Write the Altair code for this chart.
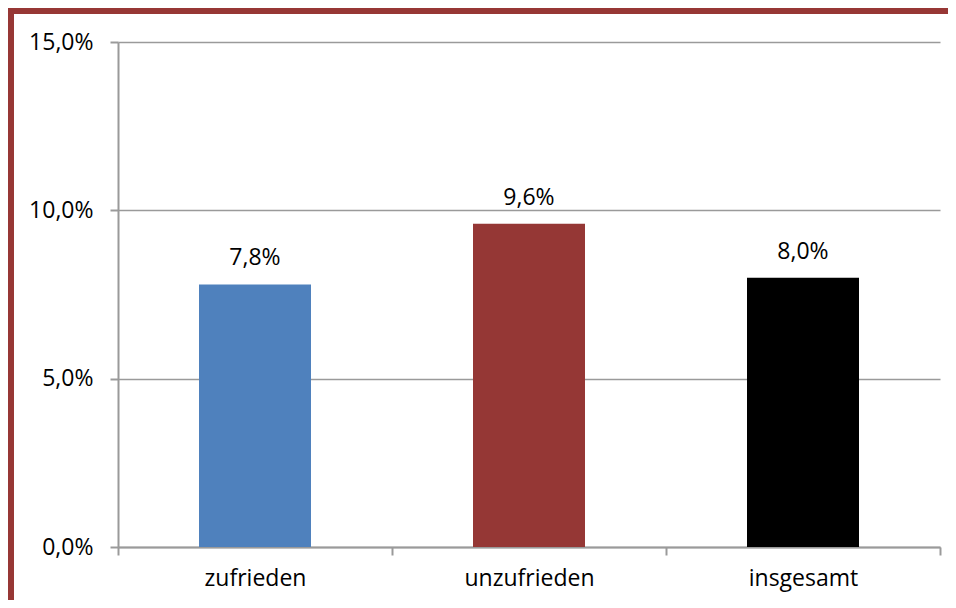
import altair as alt
import pandas as pd

categories = ["zufrieden", "unzufrieden", "insgesamt"]
values = [0.078, 0.096, 0.080]
colors = ["#4f81bd", "#953735", "#000000"]

df = pd.DataFrame({"cat": categories, "val": values, "color": colors})

FONT = "Open Sans"
FS = 23
W, H = 822, 505

x = alt.X("cat:N", sort=categories, title=None,
          scale=alt.Scale(paddingInner=0, paddingOuter=0),
          axis=alt.Axis(tickBand="extent", labelAngle=0, labelFont=FONT, labelFontSize=FS,
                        labelColor="#000000", labelPadding=12, tickSize=8, tickColor="#9a9a9a",
                        tickWidth=2, domainColor="#9a9a9a", domainWidth=2, grid=False))
y = alt.Y("val:Q", title=None,
          scale=alt.Scale(domain=[0, 0.15], nice=False),
          axis=alt.Axis(values=[0, 0.05, 0.10, 0.15], labelFont=FONT, labelFontSize=FS,
                        labelColor="#000000", labelPadding=17, tickSize=8, tickColor="#9a9a9a",
                        tickWidth=2, domainColor="#9a9a9a", domainWidth=2,
                        gridColor="#9a9a9a", gridWidth=1.5,
                        labelExpr="replace(format(datum.value, '.1%'), '.', ',')"))

bars = alt.Chart(df).mark_bar(size=112).encode(
    x=x, y=y, color=alt.Color("color:N", scale=None)
)

texts = alt.Chart(df).transform_calculate(
    label="replace(format(datum.val, '.1%'), '.', ',')"
).mark_text(baseline="bottom", dy=-14, font=FONT, fontSize=FS, color="#000000").encode(
    x=alt.X("cat:N", sort=categories), y=alt.Y("val:Q"), text="label:N"
)

border = alt.Chart(alt.Data(values=[{}])).mark_rect(
    fill=None, stroke="#973735", strokeWidth=6, clip=False
).encode(
    x=alt.value(-107), x2=alt.value(W + 60), y=alt.value(-31), y2=alt.value(H + 100)
)

chart = alt.layer(bars, texts, border).properties(
    width=W, height=H,
    autosize=alt.AutoSizeParams(type="none"),
    padding={"left": 110, "top": 34, "right": 8, "bottom": 53},
    background="#ffffff",
).configure_view(stroke=None)

chart.save("out.html", embed_options={"renderer": "svg", "actions": False})
